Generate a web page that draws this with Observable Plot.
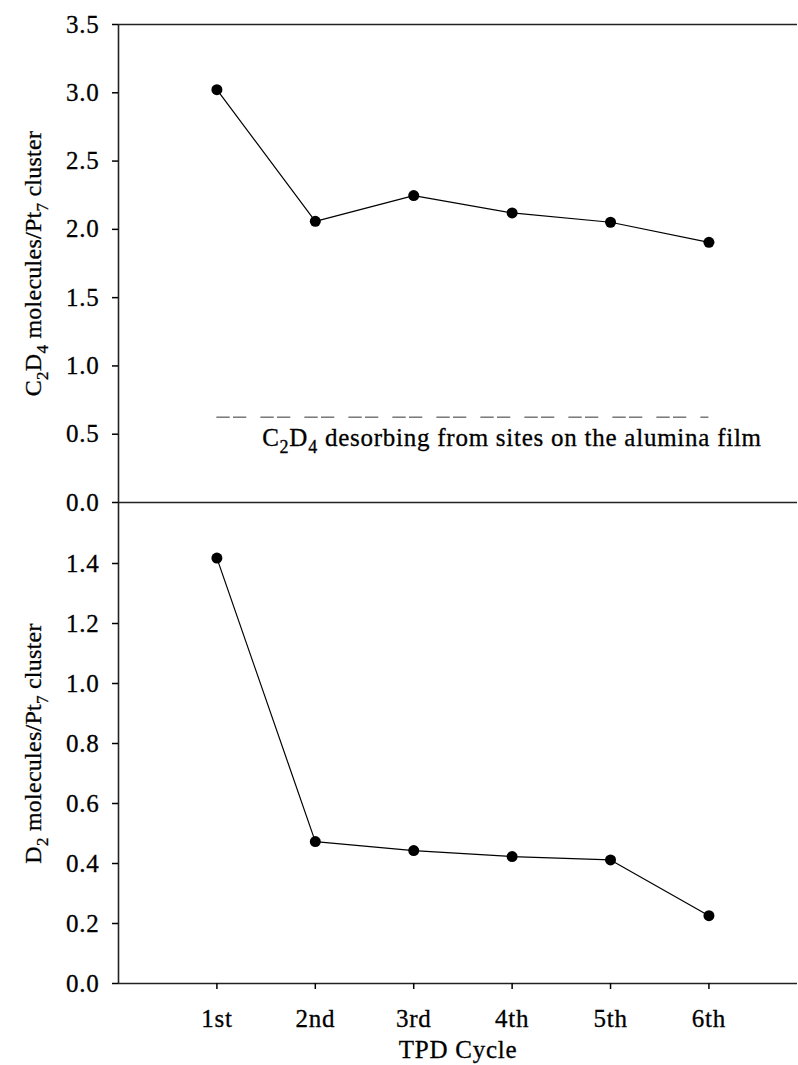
<!DOCTYPE html>
<html><head><meta charset="utf-8">
<script src="https://cdn.jsdelivr.net/npm/d3@7"></script>
<script src="https://cdn.jsdelivr.net/npm/@observablehq/plot@0.6"></script>
<style>
body{margin:0;background:#fff;}
#chart svg{display:block;}
#chart svg text{letter-spacing:0.75px;}
</style></head><body><div id="chart"></div>
<script>
// ---- data ----
const cycles = ["1st", "2nd", "3rd", "4th", "5th", "6th"];
const cycleIndex = [1, 2, 3, 4, 5, 6];
const c2d4Values = [3.023, 2.059, 2.247, 2.12, 2.052, 1.905];
const d2Values = [1.418, 0.473, 0.443, 0.423, 0.412, 0.226];
const topTicks = [0, 0.5, 1.0, 1.5, 2.0, 2.5, 3.0, 3.5];
const bottomTicks = [0, 0.2, 0.4, 0.6, 0.8, 1.0, 1.2, 1.4];
const aluminaLevel = [0.625];
const aluminaSpan = [1, 6];
const aluminaLabel = ["C_2D_4 desorbing from sites on the alumina film"];
const aluminaLabelPos = [1.46, 0.417];
const topYLabel = ["C_2D_4 molecules/Pt_7 cluster"];
const bottomYLabel = ["D_2 molecules/Pt_7 cluster"];
const xLabel = ["TPD Cycle"];

// ---- layout ----
const FONT = "'Liberation Serif', 'Times New Roman', serif";
const FS = 25;     // horizontal text
const FSV = 24;    // rotated axis titles
const INK = "#000";
const common = {
  width: 798, marginLeft: 118, marginRight: 1,
  style: {fontFamily: FONT, fontSize: FS + "px", overflow: "visible", background: "transparent", color: INK},
  x: {domain: [0, 6.9], axis: null}
};

const topPlot = Plot.plot({
  ...common,
  height: 503, marginTop: 24, marginBottom: 1,
  y: {domain: [0, 3.5], axis: null},
  marks: [
    Plot.ruleY([0, 3.5], {stroke: "#222", strokeWidth: 1.6}),
    Plot.ruleX([0], {y1: 0, y2: 3.5, stroke: "#222", strokeWidth: 1.6}),
    Plot.axisY(topTicks, {tickSize: 6, tickPadding: 13, strokeWidth: 1.5, fontSize: FS, tickFormat: d3.format(".1f"), label: null}),
    Plot.ruleY(aluminaLevel, {x1: aluminaSpan[0], x2: aluminaSpan[1], stroke: "#333", strokeWidth: 1, strokeDasharray: "13.3,3.3,13.3,14.1"}),
    Plot.text(aluminaLabel, {x: aluminaLabelPos[0], y: aluminaLabelPos[1], textAnchor: "start", lineAnchor: "bottom", fontSize: FS, fill: INK}),
    Plot.line(cycleIndex, {x: d => d, y: (d, i) => c2d4Values[i], stroke: "black", strokeWidth: 1.2}),
    Plot.dot(cycleIndex, {x: d => d, y: (d, i) => c2d4Values[i], r: 5.5, fill: "black", stroke: "none"}),
    Plot.text(topYLabel, {frameAnchor: "left", rotate: -90, dx: -78, lineAnchor: "bottom", textAnchor: "middle", fontSize: FSV, fill: INK})
  ]
});

const bottomPlot = Plot.plot({
  ...common,
  height: 562, marginTop: 0, marginBottom: 82,
  y: {domain: [0, 1.6], axis: null},
  marks: [
    Plot.ruleY([0], {stroke: "#222", strokeWidth: 1.6}),
    Plot.ruleX([0], {y1: 0, y2: 1.6, stroke: "#222", strokeWidth: 1.6}),
    Plot.axisY(bottomTicks, {tickSize: 6, tickPadding: 13, strokeWidth: 1.5, fontSize: FS, tickFormat: d3.format(".1f"), label: null}),
    Plot.axisX(cycleIndex, {tickSize: 6, tickPadding: 20, strokeWidth: 1.5, fontSize: FS, tickFormat: d => cycles[d - 1], label: null}),
    Plot.line(cycleIndex, {x: d => d, y: (d, i) => d2Values[i], stroke: "black", strokeWidth: 1.2}),
    Plot.dot(cycleIndex, {x: d => d, y: (d, i) => d2Values[i], r: 5.5, fill: "black", stroke: "none"}),
    Plot.text(bottomYLabel, {frameAnchor: "left", rotate: -90, dx: -78, lineAnchor: "bottom", textAnchor: "middle", fontSize: FSV, fill: INK}),
    Plot.text(xLabel, {frameAnchor: "bottom", dy: 74, lineAnchor: "bottom", textAnchor: "middle", fontSize: FS, fill: INK})
  ]
});

function subscripts(svg) {
  d3.select(svg).selectAll("text").each(function() {
    const t = this.textContent;
    if (!t.includes("_")) return;
    const rotated = (this.getAttribute("transform") || "").includes("rotate");
    const size = rotated ? FSV : FS;
    const parts = t.split(/_(\d)/);
    const sel = d3.select(this);
    sel.text(null);
    const shift = Math.round(size * 0.28);
    parts.forEach((p, i) => {
      if (!p) return;
      if (i % 2 === 1) {
        sel.append("tspan").attr("dy", shift).attr("font-size", Math.round(size * 0.72)).text(p);
      } else {
        const ts = sel.append("tspan").text(p);
        if (i > 0) ts.attr("dy", -shift);
      }
    });
  });
  // slightly heavier glyphs; tighter spacing on rotated titles
  d3.select(svg).selectAll("text")
    .attr("stroke", "#000").attr("stroke-width", 0.3)
    .filter(function() { return (this.getAttribute("transform") || "").includes("rotate"); })
    .style("letter-spacing", "0.25px");
}
subscripts(topPlot);
subscripts(bottomPlot);

const chart = document.getElementById("chart");
chart.append(topPlot, bottomPlot);
</script>
</body></html>
